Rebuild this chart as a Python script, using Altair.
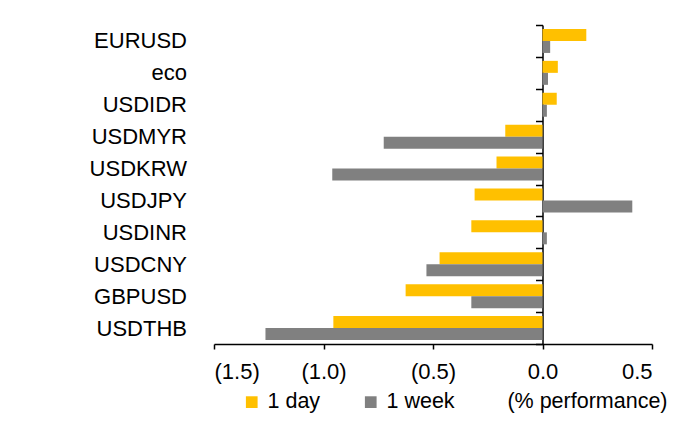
import altair as alt
import pandas as pd

categories = ["EURUSD", "eco", "USDIDR", "USDMYR", "USDKRW", "USDJPY", "USDINR", "USDCNY", "GBPUSD", "USDTHB"]
one_day = [0.20, 0.07, 0.065, -0.17, -0.21, -0.31, -0.325, -0.47, -0.625, -0.955]
one_week = [0.035, 0.025, 0.02, -0.725, -0.96, 0.41, 0.02, -0.53, -0.325, -1.265]
series = ["1 day", "1 week"]
colors = ["#FFC000", "#808080"]
x_ticks = [-1.5, -1.0, -0.5, 0.0, 0.5]

rows = []
for c, d, w in zip(categories, one_day, one_week):
    rows.append({"pair": c, "series": "1 day", "value": d})
    rows.append({"pair": c, "series": "1 week", "value": w})
df = pd.DataFrame(rows)

FONT = "Liberation Sans"
FS = 22
FS2 = 21.5
W, H = 438, 319

bars = alt.Chart(df).mark_bar().encode(
    y=alt.Y("pair:N", sort=categories,
            scale=alt.Scale(paddingInner=0, paddingOuter=0),
            axis=alt.Axis(title=None, orient="left", offset=-328.5, tickBand="extent",
                          tickSize=7, labelPadding=349, labelFontSize=FS, labelFont=FONT,
                          labelColor="#000", domainColor="#000", tickColor="#000",
                          domainWidth=1.5, tickWidth=1.5, labelAlign="right")),
    x=alt.X("value:Q", scale=alt.Scale(domain=[-1.5, 0.5], nice=False, zero=False),
            axis=alt.Axis(values=x_ticks, title="(% performance)", grid=False,
                          labelExpr="datum.value < 0 ? '(' + format(abs(datum.value), '.1f') + ')' : format(datum.value, '.1f')",
                          labelFontSize=FS, labelFont=FONT, labelColor="#000", labelPadding=12,
                          tickSize=5, tickColor="#000", domainColor="#000", domainWidth=1.5, tickWidth=1.5,
                          titleFontSize=FS2, titleFont=FONT, titleFontWeight="normal", titleColor="#000",
                          titleX=453, titleY=57, titleAlign="right", titleBaseline="middle")),
    yOffset=alt.YOffset("series:N", sort=series, scale=alt.Scale(paddingInner=0, paddingOuter=0.33)),
    color=alt.Color("series:N", sort=series, scale=alt.Scale(domain=series, range=colors),
                    legend=alt.Legend(title=None, orient="none", direction="horizontal",
                                      legendX=27, legendY=366, padding=0, symbolType="square", symbolSize=137,
                                      symbolStrokeWidth=0, labelFontSize=FS2, labelFont=FONT,
                                      labelColor="#000", labelOffset=5, columnPadding=39)),
)

top_line = alt.Chart(pd.DataFrame({"k": [0]})).mark_rule(color="#70625e", strokeWidth=3).encode(
    x=alt.value(-209), x2=alt.value(467), y=alt.value(-18.5)
)

chart = alt.layer(bars, top_line).properties(
    width=W, height=H,
    autosize=alt.AutoSizeParams(type="none"),
    padding={"left": 206, "top": 17, "right": 21, "bottom": 69},
).configure_view(stroke=None)

chart.save("out.html", embed_options={"renderer": "svg", "actions": False})
